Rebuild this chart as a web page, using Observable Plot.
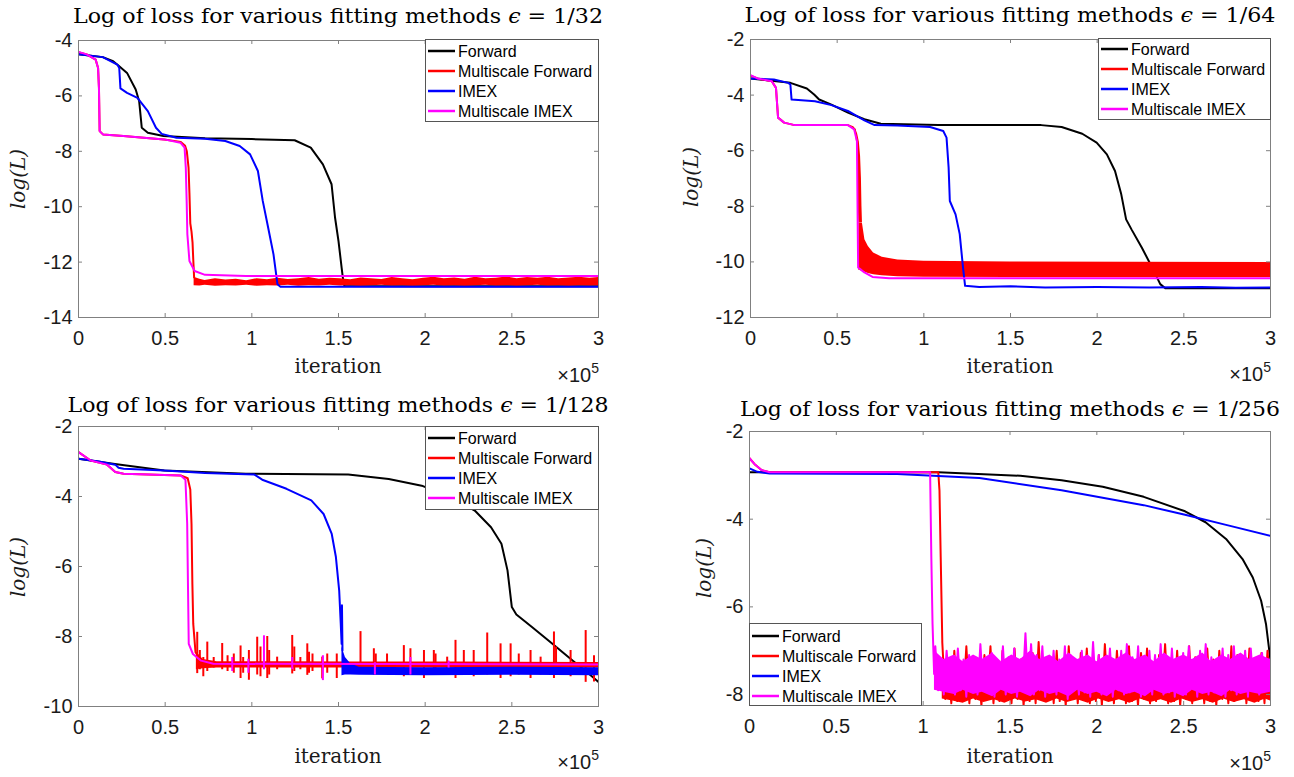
<!DOCTYPE html>
<html>
<head>
<meta charset="utf-8">
<script src="https://cdn.jsdelivr.net/npm/d3@7"></script>
<script src="https://cdn.jsdelivr.net/npm/@observablehq/plot@0.6"></script>
<style>
  html, body { margin: 0; padding: 0; background: #fff; }
  #root { position: relative; width: 1294px; height: 777px; overflow: hidden; background: #fff; }
  .cell { position: absolute; }
  .cell svg { display: block; }
  #overlay { position: absolute; left: 0; top: 0; pointer-events: none; }
</style>
</head>
<body>
<div id="root"></div>
<script>
// ---------------- DATA ----------------
const seriesNames = ["Forward", "Multiscale Forward", "IMEX", "Multiscale IMEX"];
const seriesColors = ["#000000", "#ff0000", "#0000ff", "#ff00ff"];
const epsilonLabels = ["1/32", "1/64", "1/128", "1/256"];
const xTickValues = [0, 0.5, 1, 1.5, 2, 2.5, 3];
const yTicksP1 = [-14, -12, -10, -8, -6, -4];
const yTicksP2 = [-12, -10, -8, -6, -4, -2];
const yTicksP3 = [-10, -8, -6, -4, -2];
const yTicksP4 = [-8, -6, -4, -2];
const xLabel = "iteration";
const yLabel = "log(L)";

// iteration in units of 1e5, value = log(L)
// ---- eps = 1/32
const p1Forward = [[0,-4.5],[0.14,-4.6],[0.2,-4.75],[0.235,-4.93],[0.28,-5.17],[0.33,-5.77],[0.35,-6.19],[0.365,-7.15],[0.40,-7.33],[0.49,-7.45],[0.73,-7.53],[1.0,-7.56],[1.247,-7.6],[1.34,-7.87],[1.41,-8.47],[1.46,-9.19],[1.48,-10.39],[1.50,-11.24],[1.518,-12.2],[1.525,-12.56],[1.534,-12.86],[2.0,-12.87],[3.0,-12.87]];
const p1MsForward = [[0,-4.42],[0.047,-4.5],[0.099,-4.69],[0.113,-4.99],[0.118,-5.71],[0.122,-7.27],[0.141,-7.39],[0.259,-7.45],[0.494,-7.57],[0.59,-7.66],[0.615,-7.8],[0.625,-8.0],[0.635,-8.6],[0.64,-9.5],[0.645,-10.6],[0.652,-10.9],[0.658,-11.3],[0.662,-11.9],[0.667,-12.55]];
const p1MsForwardBand = [[0.667,-12.55,-12.85],[0.70,-12.62,-12.86],[0.73,-12.66,-12.84],[0.79,-12.6,-12.87],[0.85,-12.65,-12.85],[0.91,-12.62,-12.86],[0.97,-12.67,-12.84],[1.03,-12.6,-12.87],[1.09,-12.64,-12.85],[1.15,-12.58,-12.86],[1.21,-12.63,-12.84],[1.27,-12.6,-12.87],[1.33,-12.56,-12.85],[1.39,-12.62,-12.86],[1.45,-12.58,-12.84],[1.51,-12.6,-12.86],[1.57,-12.64,-12.85],[1.63,-12.57,-12.87],[1.69,-12.6,-12.85],[1.75,-12.63,-12.84],[1.81,-12.56,-12.86],[1.87,-12.6,-12.85],[1.93,-12.64,-12.87],[1.99,-12.58,-12.85],[2.05,-12.55,-12.84],[2.11,-12.6,-12.86],[2.17,-12.57,-12.85],[2.23,-12.62,-12.87],[2.29,-12.55,-12.85],[2.35,-12.6,-12.84],[2.41,-12.58,-12.86],[2.47,-12.54,-12.85],[2.53,-12.6,-12.87],[2.59,-12.56,-12.85],[2.65,-12.58,-12.84],[2.71,-12.55,-12.86],[2.77,-12.6,-12.85],[2.83,-12.57,-12.87],[2.89,-12.55,-12.85],[2.95,-12.58,-12.86],[3.0,-12.56,-12.85]];
const p1Imex = [[0,-4.5],[0.14,-4.6],[0.224,-4.87],[0.235,-4.99],[0.242,-5.73],[0.28,-5.89],[0.34,-6.07],[0.40,-6.55],[0.447,-7.15],[0.48,-7.37],[0.565,-7.51],[0.73,-7.55],[0.847,-7.63],[0.93,-7.81],[0.99,-8.11],[1.035,-8.71],[1.063,-9.79],[1.094,-10.75],[1.125,-11.72],[1.148,-12.8],[1.165,-12.89],[3.0,-12.89]];
const p1MsImex = [[0,-4.41],[0.047,-4.5],[0.099,-4.69],[0.113,-4.99],[0.118,-5.71],[0.122,-7.27],[0.141,-7.39],[0.259,-7.45],[0.494,-7.57],[0.588,-7.69],[0.612,-7.87],[0.619,-8.59],[0.624,-9.79],[0.628,-10.99],[0.64,-11.96],[0.67,-12.32],[0.73,-12.46],[0.965,-12.5],[3.0,-12.5]];

// ---- eps = 1/64
const p2Forward = [[0,-3.4],[0.23,-3.56],[0.325,-3.76],[0.367,-3.98],[0.396,-4.16],[0.467,-4.34],[0.562,-4.63],[0.657,-4.87],[0.752,-5.03],[1.084,-5.08],[1.677,-5.08],[1.795,-5.15],[1.914,-5.39],[1.997,-5.71],[2.056,-6.13],[2.103,-6.73],[2.139,-7.57],[2.167,-8.47],[2.198,-8.83],[2.258,-9.49],[2.317,-10.2],[2.364,-10.8],[2.393,-10.95],[3.0,-10.95]];
const p2MsForward = [[0,-3.3],[0.04,-3.4],[0.123,-3.5],[0.147,-3.74],[0.159,-4.81],[0.194,-4.99],[0.254,-5.08],[0.562,-5.08],[0.59,-5.15],[0.602,-5.25]];
// drop column: [log(L), left iteration, right iteration]
const p2MsForwardDrop = [[-5.2,0.598,0.606],[-5.4,0.606,0.618],[-5.7,0.612,0.628],[-6.2,0.616,0.635],[-7.0,0.62,0.64],[-8.0,0.622,0.643],[-8.6,0.625,0.646]];
const p2MsForwardBand = [[0.625,-8.6,-10.3],[0.646,-8.62,-10.33],[0.66,-9.2,-10.37],[0.68,-9.45,-10.42],[0.71,-9.68,-10.46],[0.76,-9.83,-10.5],[0.85,-9.93,-10.53],[1.0,-9.98,-10.55],[1.5,-10.0,-10.56],[2.2,-10.01,-10.56],[3.0,-10.02,-10.56]];
const p2Imex = [[0,-3.4],[0.135,-3.44],[0.218,-3.56],[0.23,-3.62],[0.237,-4.16],[0.372,-4.22],[0.467,-4.36],[0.562,-4.57],[0.657,-4.91],[0.716,-5.08],[0.847,-5.09],[1.036,-5.15],[1.112,-5.29],[1.131,-5.53],[1.143,-6.61],[1.15,-7.81],[1.183,-8.29],[1.207,-9.0],[1.226,-10.2],[1.238,-10.86],[1.32,-10.9],[1.5,-10.88],[1.7,-10.92],[2.0,-10.9],[2.3,-10.92],[2.6,-10.9],[2.8,-10.93],[3.0,-10.92]];
const p2MsImex = [[0,-3.28],[0.04,-3.4],[0.123,-3.5],[0.147,-3.74],[0.159,-4.81],[0.194,-4.99],[0.254,-5.08],[0.562,-5.08],[0.598,-5.23],[0.614,-5.65],[0.619,-9.0],[0.621,-10.2],[0.633,-10.26],[0.657,-10.38],[0.704,-10.54],[0.8,-10.59],[3.0,-10.59]];

// ---- eps = 1/128
const p3Forward = [[0,-2.92],[0.21,-3.07],[0.495,-3.26],[0.966,-3.35],[1.556,-3.37],[1.79,-3.5],[1.98,-3.69],[2.145,-4.02],[2.286,-4.4],[2.38,-4.88],[2.44,-5.35],[2.475,-6.11],[2.5,-7.16],[2.526,-7.37],[2.616,-7.73],[2.734,-8.21],[2.852,-8.69],[2.946,-9.07],[3.0,-9.3]];
const p3MsForward = [[0,-2.73],[0.07,-2.97],[0.165,-3.09],[0.212,-3.3],[0.26,-3.35],[0.59,-3.4],[0.63,-3.48],[0.645,-3.8],[0.652,-4.78],[0.657,-6.5],[0.662,-7.64],[0.675,-8.45],[0.71,-8.69],[0.78,-8.78],[3.0,-8.8]];
const p3MsForwardBand = [[0.68,-8.45,-8.95],[0.72,-8.66,-8.92],[0.8,-8.72,-8.9],[1.2,-8.72,-8.9],[1.6,-8.73,-8.9],[2.2,-8.73,-8.9],[3.0,-8.74,-8.9]];
// spikes: [iteration, top, bottom]
const p3MsForwardSpikes = [[0.685,-7.88,-9.06],[0.70,-8.4,-8.95],[0.72,-8.6,-9.15],[0.743,-8.16,-9.0],[0.78,-8.6,-8.9],[0.829,-8.2,-8.95],[0.86,-8.55,-9.0],[0.896,-8.5,-9.05],[0.935,-8.27,-9.2],[0.95,-8.6,-9.05],[0.983,-8.4,-9.25],[1.031,-8.02,-9.1],[1.05,-8.3,-9.15],[1.089,-8.0,-9.2],[1.1,-8.4,-9.1],[1.146,-8.59,-8.95],[1.233,-7.97,-9.07],[1.245,-8.3,-9.0],[1.28,-8.6,-8.95],[1.32,-8.21,-9.11],[1.33,-8.45,-9.05],[1.35,-8.5,-9.0],[1.406,-8.59,-9.21],[1.435,-8.5,-9.05],[1.49,-8.5,-9.2],[1.627,-7.86,-9.05],[1.704,-8.35,-9.1],[1.715,-8.5,-9.0],[1.78,-8.5,-9.05],[1.877,-8.26,-9.15],[1.915,-8.35,-9.1],[1.993,-8.4,-9.2],[2.05,-8.4,-9.1],[2.06,-8.5,-9.05],[2.127,-8.59,-9.05],[2.175,-8.11,-9.2],[2.223,-8.4,-9.05],[2.28,-8.4,-9.15],[2.358,-7.9,-9.1],[2.435,-8.21,-9.2],[2.493,-8.21,-9.15],[2.54,-8.5,-9.1],[2.608,-8.4,-9.2],[2.666,-8.59,-9.1],[2.743,-7.87,-9.2],[2.755,-8.3,-9.1],[2.839,-8.4,-9.15],[2.926,-7.83,-9.31],[2.974,-8.55,-9.3]];
const p3Imex = [[0,-2.92],[0.118,-3.0],[0.212,-3.09],[0.231,-3.18],[0.26,-3.21],[0.495,-3.26],[0.73,-3.33],[1.013,-3.37],[1.06,-3.52],[1.2,-3.78],[1.343,-4.11],[1.414,-4.5],[1.461,-5.07],[1.485,-5.73],[1.504,-6.69],[1.513,-7.64],[1.518,-8.21],[1.52,-7.11],[1.523,-8.4]];
const p3ImexBand = [[1.52,-8.3,-9.12],[1.54,-8.6,-9.1],[1.57,-8.78,-9.1],[1.62,-8.88,-9.11],[2.0,-8.89,-9.12],[2.5,-8.88,-9.11],[3.0,-8.89,-9.12]];
const p3MsImex = [[0,-2.73],[0.07,-2.97],[0.165,-3.09],[0.212,-3.3],[0.26,-3.35],[0.59,-3.4],[0.617,-3.52],[0.627,-4.78],[0.632,-6.69],[0.636,-8.21],[0.66,-8.5],[0.707,-8.69],[0.778,-8.78],[3.0,-8.8]];
const p3MsImexSpikes = [[0.887,-8.6,-9.0],[0.98,-8.65,-9.05],[1.07,-7.98,-8.95],[1.233,-8.6,-8.95],[1.41,-8.55,-9.26],[1.71,-8.75,-9.1],[1.915,-8.6,-9.1],[2.135,-8.7,-8.9]];

// ---- eps = 1/256
const p4Forward = [[0,-2.93],[0.5,-2.93],[1.087,-2.93],[1.56,-3.01],[1.797,-3.11],[2.034,-3.26],[2.27,-3.49],[2.508,-3.82],[2.626,-4.07],[2.744,-4.45],[2.839,-4.91],[2.898,-5.33],[2.946,-5.86],[2.974,-6.39],[2.993,-7.0],[3.0,-7.22]];
const p4MsForward = [[0,-2.61],[0.033,-2.76],[0.069,-2.88],[0.116,-2.93],[1.087,-2.93],[1.094,-3.35],[1.101,-4.87],[1.11,-6.77]];
const p4MsForwardCore = [[1.11,-7.3,-8.1],[1.17,-7.5,-8.15],[1.23,-7.4,-8.2],[1.29,-7.5,-8.1],[1.35,-7.4,-8.18],[1.41,-7.5,-8.12],[1.47,-7.45,-8.2],[1.53,-7.5,-8.1],[1.59,-7.4,-8.17],[1.65,-7.5,-8.12],[1.71,-7.45,-8.2],[1.77,-7.5,-8.1],[1.83,-7.4,-8.18],[1.89,-7.5,-8.12],[1.95,-7.45,-8.2],[2.01,-7.5,-8.1],[2.07,-7.4,-8.18],[2.13,-7.5,-8.12],[2.19,-7.45,-8.2],[2.25,-7.5,-8.1],[2.31,-7.4,-8.18],[2.37,-7.5,-8.12],[2.43,-7.45,-8.2],[2.49,-7.5,-8.1],[2.55,-7.4,-8.18],[2.61,-7.5,-8.12],[2.67,-7.45,-8.2],[2.73,-7.5,-8.1],[2.79,-7.4,-8.18],[2.85,-7.5,-8.12],[2.91,-7.45,-8.2],[2.97,-7.5,-8.1],[3.0,-7.4,-8.15]];
const p4MsForwardNoiseRange = [1.11, 3.0];
const p4MsForwardNoise = [-6.8,-8.1,-7.3,-8.2,-7.0,-8.15,-7.4,-8.05,-6.9,-8.2,-7.2,-8.1,-7.45,-8.25,-7.1,-8.0,-6.9,-8.2,-7.3,-8.15,
  -7.0,-8.05,-7.35,-8.2,-6.95,-8.1,-7.2,-8.25,-7.4,-8.15,-7.05,-8.2,-6.8,-8.1,-7.3,-8.05,-7.15,-8.2,-7.0,-8.15,
  -7.45,-8.25,-6.9,-8.1,-7.25,-8.2,-7.05,-8.0,-6.95,-8.2,-7.4,-8.15,-7.1,-8.25,-6.85,-8.1,-7.3,-8.2,-7.0,-8.05,
  -7.2,-8.2,-6.9,-8.15,-7.35,-8.25,-7.05,-8.1,-6.95,-8.2,-7.3,-8.15,-7.1,-8.05,-6.85,-8.2,-7.25,-8.15,-7.0,-8.25,
  -7.4,-8.1,-6.9,-8.2,-7.15,-8.05,-7.3,-8.2,-6.95,-8.15,-7.2,-8.25,-7.0,-8.1,-7.35,-8.2,-6.9,-8.15,-7.1,-8.05,
  -7.25,-8.2,-6.95,-8.1,-7.3,-8.15,-7.05,-8.2,-7.0,-7.9];
const p4Imex = [[0,-2.84],[0.045,-2.92],[0.116,-2.96],[0.85,-2.97],[1.324,-3.06],[1.797,-3.34],[2.27,-3.68],[2.508,-3.9],[2.744,-4.13],[3.0,-4.38]];
const p4MsImex = [[0,-2.61],[0.033,-2.76],[0.069,-2.88],[0.116,-2.93],[1.04,-2.93],[1.047,-4.87],[1.054,-6.39],[1.063,-7.53]];
const p4MsImexCore = [[1.065,-7.0,-7.9],[1.12,-7.2,-7.95],[1.18,-7.1,-8.0],[1.23,-7.25,-7.9],[1.29,-7.1,-8.0],[1.34,-7.2,-7.95],[1.4,-7.05,-8.05],[1.45,-7.25,-7.9],[1.51,-7.1,-8.0],[1.56,-7.2,-7.95],[1.62,-7.0,-8.05],[1.67,-7.2,-7.9],[1.73,-7.1,-8.0],[1.78,-7.25,-7.95],[1.84,-7.05,-8.05],[1.89,-7.2,-7.9],[1.95,-7.1,-8.0],[2.0,-7.25,-7.95],[2.06,-7.1,-8.05],[2.11,-7.2,-7.9],[2.17,-7.05,-8.0],[2.22,-7.2,-7.95],[2.28,-7.1,-8.05],[2.33,-7.25,-7.9],[2.39,-7.05,-8.0],[2.44,-7.2,-7.95],[2.5,-7.1,-8.05],[2.55,-7.2,-7.9],[2.61,-7.05,-8.0],[2.66,-7.25,-7.95],[2.72,-7.1,-8.05],[2.77,-7.2,-7.9],[2.83,-7.05,-8.0],[2.88,-7.2,-7.95],[2.94,-7.1,-8.0],[3.0,-7.2,-7.95]];
const p4MsImexNoiseRange = [1.07, 3.0];
const p4MsImexNoise = [-6.9,-7.9,-7.2,-8.0,-7.0,-7.8,-7.3,-8.0,-6.95,-7.9,-7.2,-8.05,-7.1,-7.85,-7.3,-8.0,-6.85,-7.9,-7.2,-7.95,
  -7.05,-8.05,-7.3,-7.8,-6.9,-8.0,-7.15,-7.9,-6.95,-8.05,-7.25,-7.85,-6.6,-7.95,-6.85,-8.0,-7.1,-7.9,-6.9,-8.05,
  -7.3,-7.8,-7.0,-8.0,-7.2,-7.9,-6.9,-8.1,-7.1,-7.85,-7.35,-8.0,-7.0,-7.95,-7.25,-8.05,-6.8,-7.9,-7.1,-8.0,
  -7.2,-7.85,-6.95,-8.05,-7.3,-7.9,-7.0,-8.0,-6.85,-7.95,-7.15,-7.85,-6.9,-8.05,-7.25,-7.9,-7.0,-8.0,-7.1,-7.85,
  -6.85,-8.0,-7.2,-7.95,-6.95,-8.05,-7.3,-7.9,-7.05,-8.0,-6.9,-7.85,-7.2,-8.05,-7.0,-7.9,-6.85,-8.0,-7.15,-7.95,
  -7.3,-7.85,-6.95,-8.05,-7.1,-7.9,-6.9,-8.0,-7.2,-7.85,-7.0,-8.05,-6.95,-7.9,-7.25,-8.0,-7.05,-7.85,-7.3,-7.2];

// ---------------- LAYOUT ----------------
const FONT_SANS = "'Liberation Sans', Arial, Helvetica, sans-serif";
const FONT_SERIF = "'DejaVu Serif', 'Liberation Serif', serif";
const TICK_FONT = 20;
const AXIS_GRAY = "#808080";
const TEXT_COLOR = "#1a1a1a";

const panels = [
  {cx: 0, cy: 0, w: 647, h: 388, ml: 78, mr: 49, mt: 40, mb: 71, ydomain: [-14, -4], yticks: yTicksP1,
   title: {x: 338, y: 23, len: 530}, xl: {x: 338, y: 373}, yl: {x: 25, y: 179}, ex: {x: 599, y: 382},
   legend: {x: 425, y: 39, w: 173, h: 82, rows: [51, 71, 91, 111]}},
  {cx: 647, cy: 0, w: 647, h: 388, ml: 103, mr: 24, mt: 39, mb: 71, ydomain: [-12, -2], yticks: yTicksP2,
   title: {x: 1010, y: 22, len: 531}, xl: {x: 1010, y: 373}, yl: {x: 698, y: 177}, ex: {x: 1271, y: 381},
   legend: {x: 1098, y: 38, w: 172, h: 81, rows: [49, 69, 89, 109]}},
  {cx: 0, cy: 388, w: 647, h: 389, ml: 78, mr: 49, mt: 38, mb: 71, ydomain: [-10, -2], yticks: yTicksP3,
   title: {x: 338, y: 412, len: 541}, xl: {x: 338, y: 763}, yl: {x: 25, y: 567}, ex: {x: 599, y: 769},
   legend: {x: 425, y: 426, w: 173, h: 83, rows: [438, 458, 478, 498]}},
  {cx: 647, cy: 388, w: 647, h: 389, ml: 102, mr: 24, mt: 43, mb: 72, ydomain: [-8.25, -2], yticks: yTicksP4,
   title: {x: 1010, y: 416, len: 540}, xl: {x: 1010, y: 763}, yl: {x: 711, y: 568}, ex: {x: 1271, y: 770},
   legend: {x: 749, y: 623, w: 172, h: 82, rows: [636, 656, 676, 696]}}
];

// ---------------- MARK HELPERS ----------------
const LW = 2;
const lineOf = (data, color) => Plot.line(data, {x: d => d[0], y: d => d[1], stroke: color, strokeWidth: LW, strokeLinejoin: "round"});
const bandOf = (data, color) => Plot.areaY(data, {x: d => d[0], y1: d => d[2], y2: d => d[1], fill: color});
const dropOf = (data, color) => Plot.areaX(data, {y: d => d[0], x1: d => d[1], x2: d => d[2], fill: color});
const spikesOf = (data, color) => Plot.ruleX(data, {x: d => d[0], y1: d => d[2], y2: d => d[1], stroke: color, strokeWidth: LW});
const noisePoints = (range, values) => values.map((v, i) => [range[0] + i * (range[1] - range[0]) / (values.length - 1), v]);

const seriesMarks = [
  [ // eps 1/32
    lineOf(p1Forward, seriesColors[0]),
    lineOf(p1MsForward, seriesColors[1]), bandOf(p1MsForwardBand, seriesColors[1]),
    lineOf(p1Imex, seriesColors[2]),
    lineOf(p1MsImex, seriesColors[3])
  ],
  [ // eps 1/64
    lineOf(p2Forward, seriesColors[0]),
    lineOf(p2MsForward, seriesColors[1]), dropOf(p2MsForwardDrop, seriesColors[1]), bandOf(p2MsForwardBand, seriesColors[1]),
    lineOf(p2Imex, seriesColors[2]),
    lineOf(p2MsImex, seriesColors[3])
  ],
  [ // eps 1/128
    lineOf(p3Forward, seriesColors[0]),
    lineOf(p3MsForward, seriesColors[1]), bandOf(p3MsForwardBand, seriesColors[1]), spikesOf(p3MsForwardSpikes, seriesColors[1]),
    lineOf(p3Imex, seriesColors[2]), bandOf(p3ImexBand, seriesColors[2]),
    lineOf(p3MsImex, seriesColors[3]), spikesOf(p3MsImexSpikes, seriesColors[3])
  ],
  [ // eps 1/256
    lineOf(p4Forward, seriesColors[0]),
    bandOf(p4MsForwardCore, seriesColors[1]),
    lineOf(p4MsForward.concat(noisePoints(p4MsForwardNoiseRange, p4MsForwardNoise)), seriesColors[1]),
    lineOf(p4Imex, seriesColors[2]),
    bandOf(p4MsImexCore, seriesColors[3]),
    lineOf(p4MsImex.concat(noisePoints(p4MsImexNoiseRange, p4MsImexNoise)), seriesColors[3])
  ]
];

const root = document.getElementById("root");
const TICK_LEN = 4;

panels.forEach((p, i) => {
  const fw = p.w - p.ml - p.mr, fh = p.h - p.mt - p.mb;
  const chart = Plot.plot({
    width: p.w, height: p.h,
    marginLeft: p.ml, marginRight: p.mr, marginTop: p.mt, marginBottom: p.mb,
    x: {domain: [0, 3]},
    y: {domain: p.ydomain},
    clip: true,
    style: {fontFamily: FONT_SANS, fontSize: TICK_FONT + "px", color: TEXT_COLOR, background: "transparent", overflow: "visible"},
    marks: [
      ...seriesMarks[i],
      Plot.frame({stroke: AXIS_GRAY, strokeWidth: 1, clip: false}),
      Plot.tickX(xTickValues, {x: d => d, stroke: AXIS_GRAY, insetTop: fh - TICK_LEN, clip: false}),
      Plot.tickX(xTickValues, {x: d => d, stroke: AXIS_GRAY, insetBottom: fh - TICK_LEN, clip: false}),
      Plot.tickY(p.yticks, {y: d => d, stroke: AXIS_GRAY, insetRight: fw - TICK_LEN, clip: false}),
      Plot.tickY(p.yticks, {y: d => d, stroke: AXIS_GRAY, insetLeft: fw - TICK_LEN, clip: false}),
      Plot.axisX(xTickValues, {anchor: "bottom", tickSize: 0, tickPadding: 13, tickFormat: d => String(d), label: null, fill: TEXT_COLOR}),
      Plot.axisY(p.yticks, {anchor: "left", tickSize: 0, tickPadding: 6, tickFormat: d => String(d), label: null, fill: TEXT_COLOR})
    ]
  });
  const cell = document.createElement("div");
  cell.className = "cell";
  cell.style.left = p.cx + "px";
  cell.style.top = p.cy + "px";
  cell.style.width = p.w + "px";
  cell.style.height = p.h + "px";
  cell.appendChild(chart);
  root.appendChild(cell);
});

// ---------------- TEXT & LEGEND OVERLAY ----------------
const overlay = d3.select(root).append("svg")
  .attr("id", "overlay").attr("width", 1294).attr("height", 777);

panels.forEach((p, i) => {
  const t = overlay.append("text")
    .attr("x", p.title.x).attr("y", p.title.y)
    .attr("text-anchor", "middle")
    .attr("font-family", FONT_SERIF).attr("font-size", 21).attr("fill", "#000")
    .attr("textLength", p.title.len).attr("lengthAdjust", "spacingAndGlyphs");
  t.append("tspan").text("Log of loss for various fitting methods ");
  t.append("tspan").attr("font-style", "italic").text("\u03F5");
  t.append("tspan").text(" = " + epsilonLabels[i]);

  overlay.append("text")
    .attr("x", p.xl.x).attr("y", p.xl.y).attr("text-anchor", "middle")
    .attr("font-family", FONT_SERIF).attr("font-size", 20).attr("fill", "#1a1a1a")
    .text(xLabel);

  overlay.append("text")
    .attr("transform", `translate(${p.yl.x},${p.yl.y}) rotate(-90)`)
    .attr("text-anchor", "middle")
    .attr("font-family", FONT_SERIF).attr("font-style", "italic").attr("font-size", 20).attr("fill", "#1a1a1a")
    .text(yLabel);

  const e = overlay.append("text")
    .attr("x", p.ex.x).attr("y", p.ex.y).attr("text-anchor", "end")
    .attr("font-family", FONT_SANS).attr("font-size", TICK_FONT).attr("fill", TEXT_COLOR);
  e.append("tspan").text("\u00D710");
  e.append("tspan").attr("dy", -9).attr("font-size", 14).text("5");

  const L = p.legend;
  const g = overlay.append("g");
  g.append("rect").attr("x", L.x + 0.5).attr("y", L.y + 0.5).attr("width", L.w).attr("height", L.h)
    .attr("fill", "#fff").attr("stroke", "#555").attr("stroke-width", 1);
  seriesNames.forEach((name, k) => {
    g.append("line").attr("x1", L.x + 3).attr("x2", L.x + 30).attr("y1", L.rows[k]).attr("y2", L.rows[k])
      .attr("stroke", seriesColors[k]).attr("stroke-width", 2.5);
    g.append("text").attr("x", L.x + 33).attr("y", L.rows[k] + 5.5)
      .attr("font-family", FONT_SANS).attr("font-size", 16).attr("fill", "#000")
      .text(name);
  });
});
</script>
</body>
</html>
